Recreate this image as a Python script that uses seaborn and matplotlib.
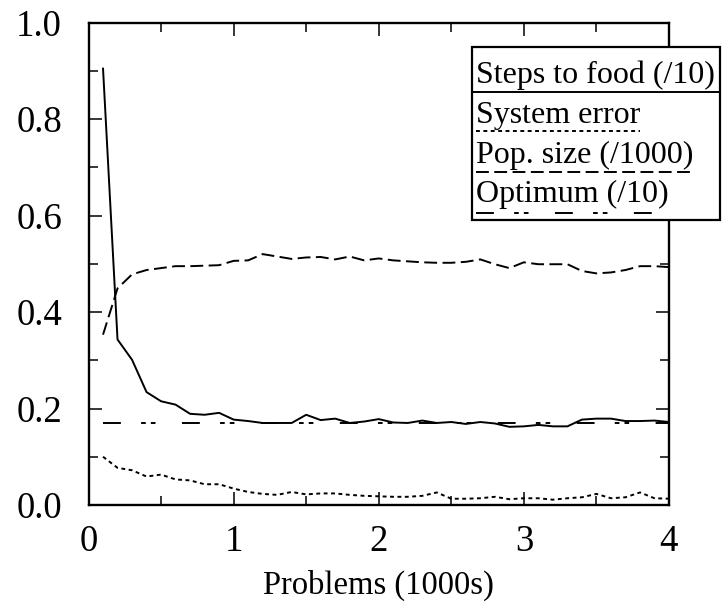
import matplotlib
matplotlib.use("Agg")
import matplotlib.pyplot as plt
from matplotlib.lines import Line2D
from matplotlib.patches import Rectangle
from matplotlib.ticker import MultipleLocator
import seaborn as sns
import pandas as pd

problems = [0.1, 0.2, 0.3, 0.4, 0.5, 0.6, 0.7, 0.8, 0.9, 1.0,
            1.1, 1.2, 1.3, 1.4, 1.5, 1.6, 1.7, 1.8, 1.9, 2.0,
            2.1, 2.2, 2.3, 2.4, 2.5, 2.6, 2.7, 2.8, 2.9, 3.0,
            3.1, 3.2, 3.3, 3.4, 3.5, 3.6, 3.7, 3.8, 3.9, 4.0]

steps_to_food = [0.905, 0.343, 0.301, 0.234, 0.215, 0.208, 0.189, 0.187, 0.191, 0.177,
                 0.174, 0.170, 0.170, 0.170, 0.187, 0.176, 0.179, 0.170, 0.173, 0.178,
                 0.171, 0.170, 0.175, 0.170, 0.172, 0.168, 0.172, 0.169, 0.162, 0.163,
                 0.166, 0.163, 0.163, 0.177, 0.179, 0.179, 0.174, 0.174, 0.175, 0.172]

system_error = [0.100, 0.077, 0.072, 0.059, 0.063, 0.053, 0.051, 0.043, 0.043, 0.034,
                0.027, 0.023, 0.021, 0.027, 0.022, 0.024, 0.024, 0.021, 0.019, 0.018,
                0.017, 0.017, 0.019, 0.026, 0.013, 0.013, 0.014, 0.017, 0.012, 0.014,
                0.014, 0.011, 0.014, 0.016, 0.023, 0.014, 0.016, 0.026, 0.014, 0.013]

pop_size = [0.353, 0.449, 0.478, 0.487, 0.491, 0.495, 0.495, 0.496, 0.497, 0.506,
            0.507, 0.520, 0.515, 0.510, 0.513, 0.514, 0.509, 0.515, 0.507, 0.511,
            0.507, 0.505, 0.503, 0.502, 0.502, 0.504, 0.509, 0.499, 0.491, 0.503,
            0.499, 0.499, 0.499, 0.485, 0.480, 0.482, 0.487, 0.495, 0.495, 0.493]

optimum = [0.169] * 40

series_names = ["Steps to food (/10)", "System error", "Pop. size (/1000)", "Optimum (/10)"]
x_ticks = [0, 1, 2, 3, 4]
y_ticks = [0.0, 0.2, 0.4, 0.6, 0.8, 1.0]
x_label = "Problems (1000s)"

sns.set_theme(style="ticks")
plt.rcParams["font.family"] = ["Liberation Serif", "DejaVu Serif"]
for k in ["text.color", "axes.labelcolor", "xtick.color", "ytick.color", "axes.edgecolor"]:
    plt.rcParams[k] = "black"

LW = 1.4
dash_styles = {
    "Steps to food (/10)": "",
    "System error": (2.0, 1.8),
    "Pop. size (/1000)": (6.6, 2.8),
    "Optimum (/10)": (9.2, 10.4, 2.4, 2.6, 2.4, 13.6),
}

df = pd.concat([
    pd.DataFrame({"x": problems, "y": vals, "series": name})
    for name, vals in zip(series_names, [steps_to_food, system_error, pop_size, optimum])
], ignore_index=True)

W, H = 723, 606
fig = plt.figure(figsize=(W / 100, H / 100), dpi=100)
ax = fig.add_axes([88.5 / W, 1 - 505 / H, (669 - 88.5) / W, (505 - 22.5) / H])

sns.lineplot(data=df, x="x", y="y", style="series", dashes=dash_styles,
             color="black", linewidth=LW, legend=False, ax=ax, sort=False)

ax.set_xlim(0, 4)
ax.set_ylim(0, 1)
ax.set_xticks(x_ticks)
ax.set_xticklabels([str(t) for t in x_ticks])
ax.set_yticks(y_ticks)
ax.set_yticklabels([f"{t:.1f}" for t in y_ticks])
ax.xaxis.set_minor_locator(MultipleLocator(0.5))
ax.yaxis.set_minor_locator(MultipleLocator(0.1))
ax.tick_params(which="both", direction="in", top=True, right=True, color="black", width=1.1)
ax.tick_params(which="major", length=9.5)
ax.tick_params(which="minor", length=6.5)
ax.tick_params(axis="y", which="major", labelsize=26.5, pad=19)
ax.tick_params(axis="x", which="major", labelsize=26.5, pad=14)
ax.set_xlabel(x_label, fontsize=23.5, labelpad=8)
ax.set_ylabel("")
for s in ax.spines.values():
    s.set_linewidth(1.7)
    s.set_color("black")
    s.set_visible(True)

# gnuplot-style key: text with its line sample underneath
box = Rectangle((472 / W, 1 - 220 / H), (720 - 472) / W, (220 - 47) / H,
                transform=fig.transFigure, facecolor="white", edgecolor="black",
                linewidth=1.6, zorder=5)
fig.add_artist(box)

baselines = [83, 123, 163, 202]
linesy = [92, 131, 172, 213]
fig.canvas.draw()
renderer = fig.canvas.get_renderer()
for i, name in enumerate(series_names):
    t = fig.text(476 / W, 1 - baselines[i] / H, name, fontsize=23,
                 va="baseline", ha="left", zorder=6)
    bb = t.get_window_extent(renderer=renderer)
    x0, x1 = bb.x0, bb.x1
    if i == 0:
        x0, x1 = 472, 720
    ds = dash_styles[name]
    ln = Line2D([x0 / W, x1 / W], [1 - linesy[i] / H] * 2, transform=fig.transFigure,
                color="black", linewidth=LW, zorder=6)
    if ds:
        ln.set_dashes(ds)
    fig.add_artist(ln)

fig.savefig("out.png", dpi=100)
